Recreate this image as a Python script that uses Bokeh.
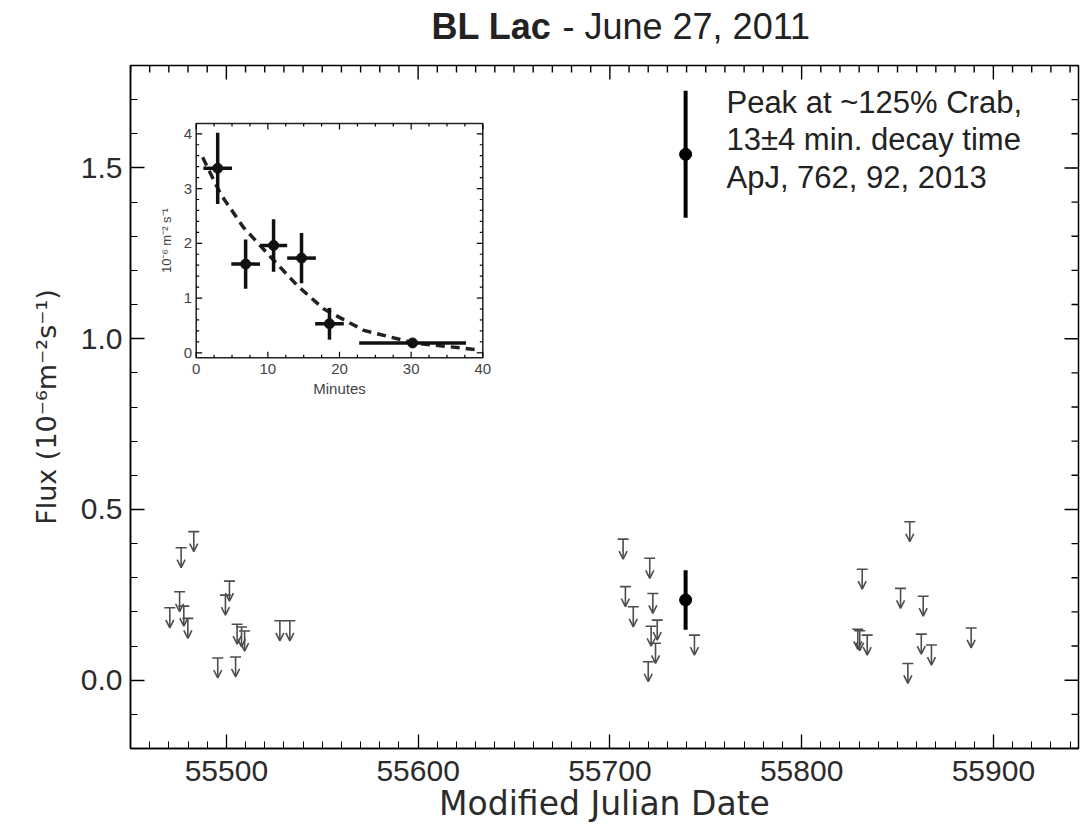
import numpy as np
from bokeh.plotting import figure
from bokeh.layouts import column
from bokeh.models import (ColumnDataSource, Range1d, FixedTicker,
                          PrintfTickFormatter, Label, Arrow, OpenHead)
from bokeh.core.properties import value
from bokeh.embed import file_html
from bokeh.resources import INLINE

# ---------------- data ----------------
det_mjd = [55739.5, 55739.5]
det_flux = [1.54, 0.235]
det_err = [0.186, 0.087]

ul_mjd = [55483.0, 55476.4, 55475.6, 55470.5, 55477.8, 55479.9, 55501.6, 55499.5,
          55505.6, 55507.9, 55509.5, 55495.5, 55504.8, 55527.9, 55533.1,
          55706.9, 55720.8, 55708.1, 55712.2, 55722.4, 55724.7, 55721.5, 55723.8,
          55720.0, 55744.1,
          55856.4, 55831.6, 55851.6, 55863.4, 55829.3, 55830.3, 55834.2, 55862.4,
          55867.7, 55855.4, 55888.4]
ul_flux = [0.435, 0.388, 0.259, 0.212, 0.217, 0.181, 0.290, 0.249,
           0.164, 0.156, 0.144, 0.065, 0.068, 0.174, 0.174,
           0.413, 0.357, 0.274, 0.215, 0.254, 0.176, 0.158, 0.108,
           0.054, 0.132,
           0.464, 0.325, 0.269, 0.246, 0.149, 0.145, 0.132, 0.135,
           0.103, 0.049, 0.153]

x_major = [55500, 55600, 55700, 55800, 55900]
y_major = [0.0, 0.5, 1.0, 1.5]

inset_t = [3.0, 6.9, 10.8, 14.7, 18.6, 30.2]
inset_t_err = [2.0, 2.0, 1.9, 2.0, 2.0, 7.45]
inset_flux = [3.37, 1.62, 1.96, 1.73, 0.53, 0.18]
inset_flux_err = [0.65, 0.45, 0.48, 0.46, 0.29, 0.0]
fit_t = [0.9, 3.4, 6.6, 10.4, 14.1, 17.8, 23.4, 30.4, 39.7]
fit_flux = [3.57, 2.90, 2.29, 1.75, 1.23, 0.80, 0.41, 0.18, 0.05]
inset_x_major = [0, 10, 20, 30, 40]
inset_y_major = [0, 1, 2, 3, 4]

title_bold = "BL Lac"
title_rest = "- June 27, 2011"
note_lines = ["Peak at ~125% Crab,", "13\u00b14 min. decay time", "ApJ, 762, 92, 2013"]

# ---------------- layout constants ----------------
W = 1080
TITLE_H = 63
FRAME_L, FRAME_T, FRAME_W, FRAME_H = 130, 65, 948, 683
X0, X1 = 55450, 55450 + FRAME_W / 1.9175
Y0, Y1 = -0.2, 1.8
PXX = FRAME_W / (X1 - X0)
PXY = FRAME_H / (Y1 - Y0)
TXT = "#2b2b2b"
GREY = "#4d4d4d"

# ---------------- title strip (its frame aligns with the main frame) ----------------
t = figure(width=W, height=TITLE_H, title=None,
           x_range=Range1d(FRAME_L, FRAME_L + FRAME_W), y_range=Range1d(0, TITLE_H),
           output_backend="svg", toolbar_location=None, min_border=0,
           min_border_left=FRAME_L, min_border_right=W - FRAME_L - FRAME_W,
           x_axis_type=None, y_axis_type=None)
t.outline_line_color = None
t.background_fill_color = "white"
t.border_fill_color = "white"
TITLE_BASE = TITLE_H - 26
t.text(x=[551], y=[TITLE_BASE], text=[title_bold], text_align="right",
       text_baseline="alphabetic", text_font=value("Liberation Sans"),
       text_font_style="bold", text_font_size="36px", text_color="#222222")
t.text(x=[562], y=[TITLE_BASE], text=[title_rest], text_align="left",
       text_baseline="alphabetic", text_font=value("Liberation Sans"),
       text_font_size="36px", text_color="#222222")

# ---------------- main plot ----------------
p = figure(frame_width=FRAME_W, frame_height=FRAME_H, title=None,
           x_range=Range1d(X0, X1), y_range=Range1d(Y0, Y1),
           output_backend="svg", toolbar_location=None,
           min_border_left=FRAME_L, min_border_right=2,
           min_border_top=FRAME_T - TITLE_H, min_border_bottom=78,
           x_axis_label="Modified Julian Date",
           y_axis_label="Flux (10\u207b\u2076m\u207b\u00b2s\u207b\u00b9)")
p.background_fill_color = "white"
p.border_fill_color = "white"
p.xgrid.visible = False
p.ygrid.visible = False
p.outline_line_color = "black"
p.outline_line_width = 1.5

x_minor = list(np.arange(55450, 55950, 10))
y_minor = list(np.round(np.arange(-0.2, 1.81, 0.1), 2))
xt = FixedTicker(ticks=x_major, minor_ticks=x_minor)
yt = FixedTicker(ticks=y_major, minor_ticks=y_minor)

for ax, tk in ((p.xaxis[0], xt), (p.yaxis[0], yt)):
    ax.ticker = tk
    ax.major_tick_in = 14
    ax.major_tick_out = 0
    ax.minor_tick_in = 7
    ax.minor_tick_out = 0
    ax.axis_line_color = "black"
    ax.axis_line_width = 1.5
    ax.major_tick_line_color = "black"
    ax.minor_tick_line_color = "black"
    ax.major_tick_line_width = 1.3
    ax.minor_tick_line_width = 1.0
    ax.major_label_text_font = "Liberation Sans"
    ax.major_label_text_font_size = "30px"
    ax.major_label_text_color = TXT
    ax.axis_label_text_font = "DejaVu Sans"
    ax.axis_label_text_font_style = "normal"
    ax.axis_label_text_color = TXT

p.xaxis[0].major_label_standoff = 12
p.xaxis[0].axis_label_standoff = 0
p.xaxis[0].axis_label_text_font_size = "33px"
p.yaxis[0].formatter = PrintfTickFormatter(format="%.1f")
p.yaxis[0].major_label_standoff = 8
p.yaxis[0].axis_label_standoff = 16
p.yaxis[0].axis_label_text_font_size = "27px"


def tick_rects(fig, xs, ys, ws, hs, **kw):
    """Thin filled rectangles (screen-sized) used as tick marks."""
    src = ColumnDataSource(dict(x=xs, y=ys, w=ws, h=hs))
    fig.rect(x="x", y="y", width="w", height="h", source=src,
             width_units="screen", height_units="screen",
             fill_color="black", line_color=None, **kw)


# mirrored ticks on top and right edges of the main frame
x_minor_only = [float(v) for v in x_minor if float(v) not in x_major]
y_minor_only = [float(v) for v in y_minor if float(v) not in y_major]
rx, ry, rw, rh = [], [], [], []
for ticks, ln in ((x_major, 14), (x_minor_only, 7)):
    for v in ticks:
        rx.append(float(v)); ry.append(Y1 - (ln / 2) / PXY); rw.append(1.4); rh.append(ln)
for ticks, ln in ((y_major, 14), (y_minor_only, 7)):
    for v in ticks:
        rx.append(X1 - (ln / 2) / PXX); ry.append(float(v)); rw.append(ln); rh.append(1.4)
tick_rects(p, rx, ry, rw, rh)

# ---------------- upper limits ----------------
UL_LEN = 20 / PXY
ul_src = ColumnDataSource(dict(x=ul_mjd, y=ul_flux,
                               y_end=[f - UL_LEN for f in ul_flux]))
p.add_layout(Arrow(end=OpenHead(size=8, line_color=GREY, line_width=1.6),
                   x_start="x", y_start="y", x_end="x", y_end="y_end",
                   source=ul_src, line_color=GREY, line_width=1.6))
p.scatter("x", "y", source=ul_src, marker="dash", size=11,
          line_color=GREY, line_width=1.6)

# ---------------- detections ----------------
det_src = ColumnDataSource(dict(x=det_mjd, y=det_flux,
                                lo=[f - e for f, e in zip(det_flux, det_err)],
                                hi=[f + e for f, e in zip(det_flux, det_err)]))
p.segment(x0="x", y0="lo", x1="x", y1="hi", source=det_src,
          line_color="black", line_width=4)
p.scatter("x", "y", source=det_src, size=12, color="black")

# ---------------- inset (drawn on extra ranges) ----------------
IN_X0PX, IN_X40PX, IN_Y0PX, IN_Y4PX = 195.7, 482.3, 352.3, 133.3
kx = (IN_X40PX - IN_X0PX) / 40.0
ky = (IN_Y0PX - IN_Y4PX) / 4.0
p.extra_x_ranges = {"ix": Range1d((FRAME_L - IN_X0PX) / kx,
                                  (FRAME_L + FRAME_W - IN_X0PX) / kx)}
p.extra_y_ranges = {"iy": Range1d((IN_Y0PX - (FRAME_T + FRAME_H)) / ky,
                                  (IN_Y0PX - FRAME_T) / ky)}
IXL, IXR = 0.0, 40.0
IYB, IYT = -0.09, 4.19
R = dict(x_range_name="ix", y_range_name="iy")

p.quad(left=[IXL], right=[IXR], bottom=[IYB], top=[IYT], fill_color="white",
       line_color="#222222", line_width=1.5, **R)

# inset ticks
ix_minor = [float(v) for v in np.arange(0, 40.01, 2.5) if v not in inset_x_major]
iy_minor = [float(v) for v in np.round(np.arange(0, 4.19, 0.2), 2) if v not in inset_y_major]
ix_, iy_, iw_, ih_ = [], [], [], []
for ticks, ln in ((inset_x_major, 6), (ix_minor, 3)):
    for v in ticks:
        for edge, sgn in ((IYB, 1), (IYT, -1)):
            ix_.append(float(v)); iy_.append(edge + sgn * (ln / 2) / ky)
            iw_.append(1.2); ih_.append(ln)
for ticks, ln in ((inset_y_major, 6), (iy_minor, 3)):
    for v in ticks:
        for edge, sgn in ((IXL, 1), (IXR, -1)):
            ix_.append(edge + sgn * (ln / 2) / kx); iy_.append(float(v))
            iw_.append(ln); ih_.append(1.2)
tick_rects(p, ix_, iy_, iw_, ih_, **R)

p.text(x=inset_x_major, y=[IYB] * len(inset_x_major),
       text=[str(v) for v in inset_x_major], y_offset=6,
       text_align="center", text_baseline="top", text_color="#444444",
       text_font=value("Liberation Sans"), text_font_size="15px", **R)
p.text(x=[IXL] * len(inset_y_major), y=inset_y_major,
       text=[str(v) for v in inset_y_major], x_offset=-4,
       text_align="right", text_baseline="middle", text_color="#444444",
       text_font=value("Liberation Sans"), text_font_size="15px", **R)
p.text(x=[(IXL + IXR) / 2], y=[IYB], text=["Minutes"], y_offset=22,
       text_align="center", text_baseline="top", text_color="#444444",
       text_font=value("Liberation Sans"), text_font_size="15px", **R)
p.text(x=[IXL], y=[(IYB + IYT) / 2], text=["10\u207b\u2076 m\u207b\u00b2 s\u207b\u00b9"],
       x_offset=-30, angle=np.pi / 2,
       text_align="center", text_baseline="middle", text_color="#444444",
       text_font=value("Liberation Sans"), text_font_size="13px", **R)

p.line(fit_t, fit_flux, line_color="#222222", line_width=3.5, line_dash="9 6", **R)

in_src = ColumnDataSource(dict(
    t=inset_t, f=inset_flux,
    tlo=[a - e for a, e in zip(inset_t, inset_t_err)],
    thi=[a + e for a, e in zip(inset_t, inset_t_err)],
    flo=[f - e for f, e in zip(inset_flux, inset_flux_err)],
    fhi=[f + e for f, e in zip(inset_flux, inset_flux_err)]))
p.segment(x0="tlo", y0="f", x1="thi", y1="f", source=in_src,
          line_color="#111111", line_width=3.5, **R)
p.segment(x0="t", y0="flo", x1="t", y1="fhi", source=in_src,
          line_color="#111111", line_width=3.5, **R)
p.scatter("t", "f", source=in_src, size=10, color="#111111", **R)

# ---------------- note ----------------
NOTE_X = 55760.8
NOTE_Y0 = 1.693
NOTE_DY = 0.1105
for i, line in enumerate(note_lines):
    p.add_layout(Label(x=NOTE_X, y=NOTE_Y0 - i * NOTE_DY, text=line,
                       text_align="left", text_baseline="alphabetic",
                       text_font="Liberation Sans", text_font_size="31px",
                       text_color="#222222"))

layout = column(t, p, spacing=0)
open("out.html", "w").write(file_html(layout, INLINE))
